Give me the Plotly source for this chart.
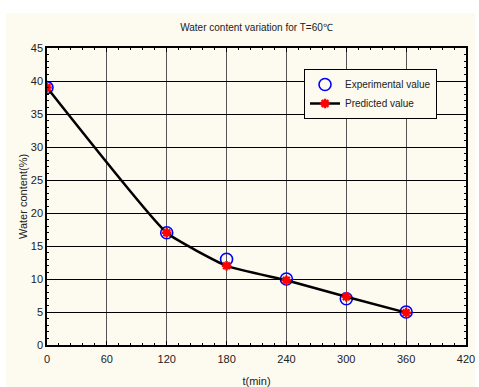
import plotly.graph_objects as go

t_min = [0, 120, 180, 240, 300, 360]
experimental = [39.0, 17.0, 13.0, 10.0, 7.0, 5.0]
predicted = [39.0, 17.0, 12.0, 9.8, 7.3, 4.9]
x_ticks = [0, 60, 120, 180, 240, 300, 360, 420]
y_ticks = [0, 5, 10, 15, 20, 25, 30, 35, 40, 45]

W, H = 479, 387
L, R, T, B = 47, 13, 48, 42
pw, ph = W - L - R, H - T - B

fig = go.Figure()
fig.add_trace(go.Scatter(
    x=t_min, y=experimental, mode="markers", name="Experimental value",
    marker=dict(symbol="circle-open", size=12, color="blue", line=dict(width=1.6, color="blue")),
))
fig.add_trace(go.Scatter(
    x=t_min, y=predicted, mode="lines+markers", name="Predicted value",
    line=dict(color="black", width=2.5, shape="spline", smoothing=0.4),
    marker=dict(symbol="asterisk-open", size=8, color="red", line=dict(width=2.5, color="red")),
))

def px2paper_x(p):
    return (p - L) / pw

def px2paper_y(p):
    return (H - B - p) / ph

fig.add_shape(type="rect", xref="paper", yref="paper",
              x0=px2paper_x(6), x1=px2paper_x(475), y0=px2paper_y(387), y1=px2paper_y(13),
              fillcolor="#FDFAF0", line=dict(width=0), layer="below")

axis_common = dict(
    showline=True, linecolor="black", linewidth=1.5, mirror="ticks",
    ticks="inside", ticklen=4, tickcolor="black",
    tickfont=dict(family="Arial", size=11, color="#222"),
    zeroline=False, automargin=False,
)
fig.update_xaxes(
    range=[0, 420], tickvals=x_ticks, showgrid=True, gridcolor="#555", gridwidth=1,
    ticklabelstandoff=3,
    title=dict(text="t(min)", font=dict(family="Arial", size=11, color="#222"), standoff=14),
    minor=dict(dtick=12, ticks="inside", ticklen=2, tickcolor="black", showgrid=False),
    **axis_common,
)
fig.update_yaxes(
    range=[0, 45], tickvals=y_ticks, showgrid=True, gridcolor="black", gridwidth=1,
    title=dict(text="Water content(%)", font=dict(family="Arial", size=11, color="#222"), standoff=1),
    minor=dict(dtick=1, ticks="inside", ticklen=2, tickcolor="black", showgrid=False),
    **axis_common,
)
fig.update_layout(
    width=W, height=H,
    margin=dict(l=L, r=R, t=T, b=B, autoexpand=False),
    paper_bgcolor="white", plot_bgcolor="white",
    title=dict(text="Water content variation for T=60\u2103", x=(L + pw / 2) / W, xanchor="center",
               y=1 - 27 / H, yanchor="middle", font=dict(family="Arial", size=10, color="#222"),
               automargin=False),
    legend=dict(x=px2paper_x(304), y=px2paper_y(69), xanchor="left", yanchor="top",
                bgcolor="#FDFAF0", bordercolor="black", borderwidth=1,
                font=dict(family="Arial", size=10, color="#222"),
                tracegroupgap=0, itemwidth=30),
    showlegend=True,
)
fig.write_html("out.html", config={"displayModeBar": False},
               post_script="document.body.style.margin='0';document.body.style.overflow='hidden';")
